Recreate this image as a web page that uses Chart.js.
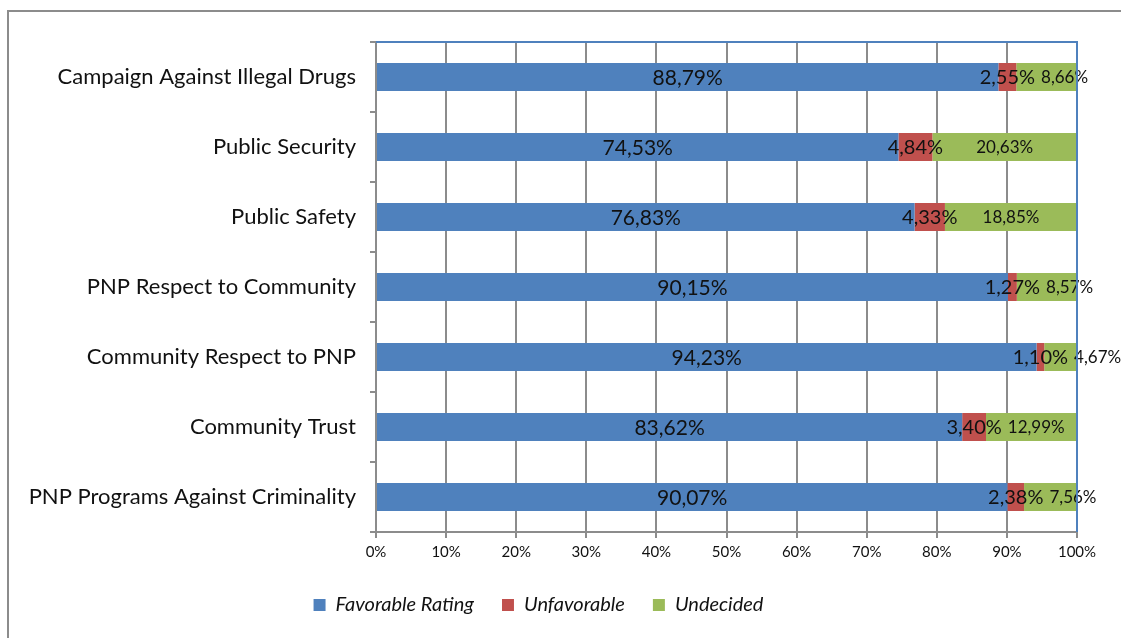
<!DOCTYPE html>
<html>
<head>
<meta charset="utf-8">
<script src="https://cdn.jsdelivr.net/npm/chart.js@4"></script>
<style>
  html, body { margin: 0; padding: 0; background: #fff; }
  #wrap { width: 1121px; height: 638px; position: relative; }
</style>
</head>
<body>
<div id="wrap"><canvas id="myChart" width="1121" height="638"></canvas></div>
<script>
const ctx = document.getElementById('myChart');

// data
const categories = [
    'Campaign Against Illegal Drugs',
    'Public Security',
    'Public Safety',
    'PNP Respect to Community',
    'Community Respect to PNP',
    'Community Trust',
    'PNP Programs Against Criminality'
];
const favorable = [88.79, 74.53, 76.83, 90.15, 94.23, 83.62, 90.07];
const unfavorable = [2.55, 4.84, 4.33, 1.27, 1.10, 3.40, 2.38];
const undecided = [8.66, 20.63, 18.85, 8.57, 4.67, 12.99, 7.56];
const xTicks = [0, 10, 20, 30, 40, 50, 60, 70, 80, 90, 100];

const FONT = 'Lato, "Liberation Sans", sans-serif';

// outer gray frame + blue plot border
const frame = {
    id: 'frame',
    beforeDraw(chart) {
        const c = chart.ctx;
        c.save();
        c.fillStyle = '#fff';
        c.fillRect(0, 0, chart.width, chart.height);
        c.strokeStyle = '#8c8c8c';
        c.lineWidth = 2;
        c.strokeRect(8, 11, chart.width + 10, chart.height + 10);
        c.restore();
    },
    afterDraw(chart) {
        const a = chart.chartArea;
        const c = chart.ctx;
        c.save();
        c.strokeStyle = '#4f81bd';
        c.lineWidth = 2;
        c.beginPath();
        c.moveTo(a.left, a.top);
        c.lineTo(a.right, a.top);
        c.lineTo(a.right, a.bottom);
        c.stroke();
        c.restore();
    }
};

// value labels in the bars, the undecided one is pushed right if it would hit the red one
const valueLabels = {
    id: 'valueLabels',
    afterDatasetsDraw(chart) {
        const c = chart.ctx;
        const sizes = [21, 20, 17];
        const fmt = (v) => v.toFixed(2).replace('.', ',') + '%';
        c.save();
        c.fillStyle = '#111';
        c.textAlign = 'center';
        c.textBaseline = 'middle';
        const redRight = [];
        chart.data.datasets.forEach((ds, i) => {
            const meta = chart.getDatasetMeta(i);
            c.font = sizes[i] + 'px ' + FONT;
            meta.data.forEach((bar, j) => {
                const txt = fmt(ds.data[j]);
                const w = c.measureText(txt).width;
                let x = (bar.x + bar.base) / 2;
                if (i == 1) redRight[j] = x + w / 2;
                if (i == 2) x = Math.max(x, redRight[j] + 6 + w / 2);
                c.fillText(txt, x, bar.y + 1);
            });
        });
        c.restore();
    }
};

const myChart = new Chart(ctx, {
    type: 'bar',
    data: {
        labels: categories,
        datasets: [
            { label: 'Favorable Rating', data: favorable, backgroundColor: '#4f81bd' },
            { label: 'Unfavorable', data: unfavorable, backgroundColor: '#c0504d' },
            { label: 'Undecided', data: undecided, backgroundColor: '#9bbb59' }
        ]
    },
    options: {
        indexAxis: 'y',
        responsive: false,
        animation: false,
        maintainAspectRatio: false,
        datasets: {
            bar: { barPercentage: 0.4, categoryPercentage: 1 }
        },
        layout: { padding: { top: 42, right: 44, left: 0, bottom: 13 } },
        scales: {
            x: {
                stacked: true,
                min: 0,
                max: 100,
                afterBuildTicks: (s) => { s.ticks = xTicks.map(v => ({ value: v })); },
                afterFit: (s) => { s.height = 35; },
                ticks: {
                    callback: (v) => v + '%',
                    color: '#111',
                    font: { family: FONT, size: 15 },
                    padding: 5
                },
                grid: { color: '#8c8c8c', lineWidth: 2, tickLength: 6 },
                border: { color: '#8c8c8c', width: 2 }
            },
            y: {
                stacked: true,
                afterFit: (s) => { s.width = 376; },
                ticks: {
                    color: '#111',
                    font: { family: FONT, size: 22 },
                    padding: 14
                },
                grid: { offset: true, drawOnChartArea: false, color: '#8c8c8c', lineWidth: 2, tickLength: 6 },
                border: { color: '#8c8c8c', width: 2 }
            }
        },
        plugins: {
            legend: {
                position: 'bottom',
                labels: {
                    color: '#111',
                    font: { family: FONT, size: 20, style: 'italic' },
                    boxWidth: 12,
                    boxHeight: 12,
                    padding: 28
                }
            },
            tooltip: { enabled: false }
        }
    },
    plugins: [frame, valueLabels]
});
</script>
</body>
</html>
